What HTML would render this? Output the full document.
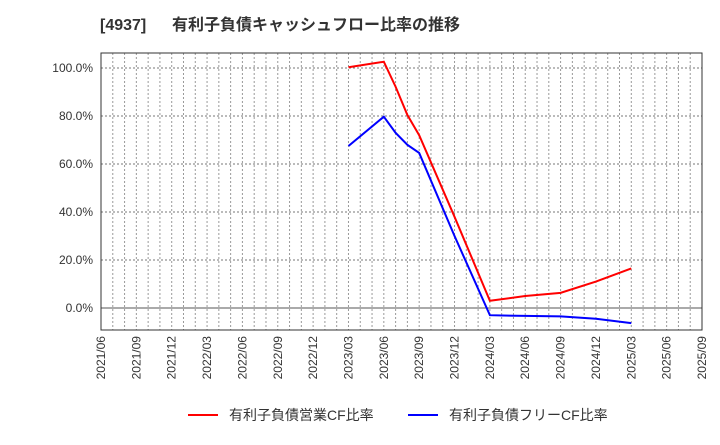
<!DOCTYPE html>
<html><head><meta charset="utf-8"><style>
body{margin:0;background:#fff;font-family:"Liberation Sans","Noto Sans CJK JP",sans-serif}
</style></head><body>
<svg id="c" width="720" height="440" xmlns="http://www.w3.org/2000/svg">
<text x="100" y="30" font-size="16" font-weight="bold" fill="#333" font-family="Liberation Sans, Noto Sans CJK JP, sans-serif">[4937]<tspan x="172">有利子負債キャッシュフロー比率の推移</tspan></text>
<g id="grid"></g><g id="axes"></g><g id="series"></g>
<g font-size="14" fill="#333" font-family="Liberation Sans, Noto Sans CJK JP, sans-serif">
<line x1="188" y1="415" x2="218" y2="415" stroke="#f00" stroke-width="2"/>
<text x="229" y="420">有利子負債営業CF比率</text>
<line x1="408" y1="415" x2="438" y2="415" stroke="#00f" stroke-width="2"/>
<text x="449" y="420">有利子負債フリーCF比率</text>
</g>
</svg>
<script>
const xTicks=["2021/06","2021/09","2021/12","2022/03","2022/06","2022/09","2022/12","2023/03","2023/06","2023/09","2023/12","2024/03","2024/06","2024/09","2024/12","2025/03","2025/06","2025/09"];
const yTicks=[0,20,40,60,80,100];
// month index from 2021/06
const months=[21,24,25,26,27,30,33,36,39,42,45];
const opCF=[100.3,102.6,92.2,80.4,72,38,3,5,6.3,11,16.5];
const freeMonths=[21,24,25,26,27,30,33,36,39,42,45];
const freeCF=[67.5,79.7,73,68,64.6,30,-3,-3.3,-3.5,-4.5,-6.3];
const L=101,R=702,T=53,B=330;
const x=m=>L+m*(R-L)/51;
const y=v=>308-v*2.4;
const ns="http://www.w3.org/2000/svg";
function mk(t,a,p){const e=document.createElementNS(ns,t);for(const k in a)e.setAttribute(k,a[k]);p.appendChild(e);return e;}
const g=document.getElementById('grid'),ax=document.getElementById('axes'),s=document.getElementById('series');
for(let m=0;m<=51;m++){const l=mk('line',{x1:x(m),x2:x(m),y1:T,y2:B,stroke:'#999','stroke-dasharray':'2,2','stroke-width':1},g);

}
yTicks.forEach(v=>{const l=mk('line',{x1:L,x2:R,y1:y(v),y2:y(v),stroke:v===0?'#555':'#777','stroke-dasharray':v===0?'':'2,2','stroke-width':1},g);


const t=mk('text',{x:L-8,y:y(v)+4,'text-anchor':'end','font-size':12,fill:'#333'},ax);t.textContent=v.toFixed(1)+'%';

});
const fr=mk('rect',{x:L,y:T,width:R-L,height:B-T,fill:'none',stroke:'#333'},ax);


xTicks.forEach((lab,i)=>{const xx=x(i*3);const t=mk('text',{x:0,y:0,'text-anchor':'end','font-size':12,fill:'#333',transform:`translate(${xx+4},336) rotate(-90)`},ax);t.textContent=lab;

});
const p1=mk('polyline',{points:months.map((m,i)=>x(m)+','+y(opCF[i])).join(' '),fill:'none',stroke:'#f00','stroke-width':2},s);


const p2=mk('polyline',{points:freeMonths.map((m,i)=>x(m)+','+y(freeCF[i])).join(' '),fill:'none',stroke:'#00f','stroke-width':2},s);


</script>
</body></html>
